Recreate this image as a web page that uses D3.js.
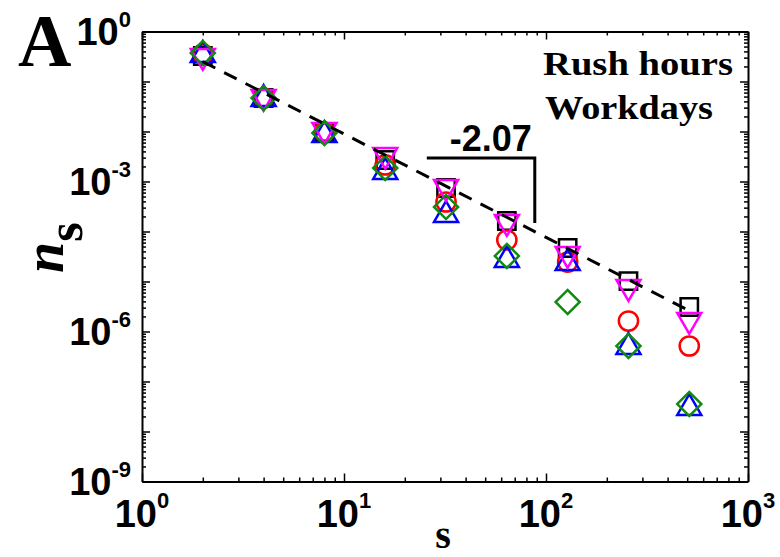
<!DOCTYPE html>
<html>
<head>
<meta charset="utf-8">
<script src="https://cdn.jsdelivr.net/npm/d3@7.9.0/dist/d3.min.js"></script>
<style>
  body { margin: 0; background: #fff; }
  svg { display: block; background: #fff; }
</style>
</head>
<body>
<svg id="chart" width="780" height="557"></svg>
<script>
// cluster sizes s and n_s for each curve
const sizes = [2, 4, 8, 16, 32, 64, 128, 256, 512];
const blackSquares = [3.24e-1, 4.68e-2, 9.77e-3, 2.69e-3, 7.41e-4, 1.62e-4, 4.68e-5, 1.02e-5, 3.09e-6];
const redCircles = [3.55e-1, 4.68e-2, 9.77e-3, 2.14e-3, 3.89e-4, 6.76e-5, 2.45e-5, 1.62e-6, 5.13e-7];
const blueTriangles = [3.39e-1, 4.47e-2, 8.51e-3, 1.55e-3, 2.14e-4, 2.69e-5, 2.34e-5, 4.90e-7, 2.95e-8];
const magentaTriangles = [3.24e-1, 4.90e-2, 1.07e-2, 3.39e-3, 7.76e-4, 1.55e-4, 3.55e-5, 7.76e-6, 1.70e-6];
const greenDiamonds = [3.72e-1, 4.68e-2, 9.33e-3, 1.86e-3, 3.09e-4, 3.24e-5, 3.89e-6, 5.13e-7, 3.55e-8];

// fitted power law (slope -2.07) and the slope bracket
const fitS = [2, 512];
const fitN = [0.25, 2.6e-6];
const slopeS = [25.7, 88, 88];
const slopeN = [2.95e-3, 2.95e-3, 1.48e-4];
const slopeLabel = '-2.07';

const xTickExps = [0, 1, 2, 3];
const yTickExps = [0, -3, -6, -9];
const noteLines = ['Rush hours', 'Workdays'];

const svg = d3.select('#chart');
const plotLeft = 142, plotRight = 748, plotTop = 31.5, plotBottom = 481.5;

const x = d3.scaleLog().domain([1, 1000]).range([plotLeft, plotRight]);
const y = d3.scaleLog().domain([1e-9, 1]).range([plotBottom, plotTop]);

// ticks: majors at decades, minors at 2..9
const xMajor = xTickExps.map(e => Math.pow(10, e));
const xMinor = x.ticks().filter(t => Math.abs(Math.log10(t) - Math.round(Math.log10(t))) > 1e-9);
const yMajor = d3.range(-9, 1).map(e => Math.pow(10, e));
const yMinor = [];
d3.range(-9, 0).forEach(e => {
  d3.range(2, 10).forEach(m => yMinor.push(m * Math.pow(10, e)));
});

function drawAxis(axisFn, scale, pos, transform) {
  const g = svg.append('g').attr('transform', transform);
  g.call(axisFn(scale).tickValues(pos.major).tickSizeInner(-8).tickSizeOuter(0).tickFormat(''));
  g.append('g').call(axisFn(scale).tickValues(pos.minor).tickSizeInner(-4).tickSizeOuter(0).tickFormat(''))
    .select('.domain').remove();
  g.selectAll('.domain').attr('stroke', '#000').attr('stroke-width', 2);
  g.selectAll('.tick line').attr('stroke', '#000').attr('stroke-width', 1.5);
}

drawAxis(d3.axisBottom, x, { major: xMajor, minor: xMinor }, `translate(0,${plotBottom})`);
drawAxis(d3.axisTop, x, { major: xMajor, minor: xMinor }, `translate(0,${plotTop})`);
drawAxis(d3.axisLeft, y, { major: yMajor, minor: yMinor }, `translate(${plotLeft},0)`);
drawAxis(d3.axisRight, y, { major: yMajor, minor: yMinor }, `translate(${plotRight},0)`);

// tick labels with superscript exponents
const tickFont = '"Liberation Sans", Arial, sans-serif';
xTickExps.forEach(e => {
  const t = svg.append('text')
    .attr('x', x(Math.pow(10, e)))
    .attr('y', 527)
    .attr('text-anchor', 'middle')
    .attr('font-family', tickFont)
    .attr('font-weight', 'bold')
    .attr('font-size', 38);
  t.append('tspan').text('10');
  t.append('tspan').attr('dy', -19).attr('font-size', 22).text(e);
});
yTickExps.forEach(e => {
  const t = svg.append('text')
    .attr('x', 131)
    .attr('y', y(Math.pow(10, e)) + 13.5)
    .attr('text-anchor', 'end')
    .attr('font-family', tickFont)
    .attr('font-weight', 'bold')
    .attr('font-size', 38);
  t.append('tspan').text('10');
  t.append('tspan').attr('dy', -18).attr('font-size', 22).text(e);
});

// axis titles
const serif = '"Liberation Serif", "Times New Roman", serif';
svg.append('text')
  .attr('x', (plotLeft + plotRight) / 2 - 2)
  .attr('y', 548)
  .attr('text-anchor', 'middle')
  .attr('font-family', serif)
  .attr('font-weight', 'bold')
  .attr('font-size', 40)
  .text('s');

const yTitle = svg.append('text')
  .attr('transform', 'translate(63,273) rotate(-90)')
  .attr('font-family', serif)
  .attr('font-weight', 'bold')
  .attr('font-size', 56);
yTitle.append('tspan').attr('font-style', 'italic').text('n');
yTitle.append('tspan').attr('dy', 19).attr('font-size', 50).text('s');

svg.append('text')
  .attr('x', 18)
  .attr('y', 66)
  .attr('font-family', serif)
  .attr('font-weight', 'bold')
  .attr('font-size', 74)
  .text('A');

// markers
const series = [
  { values: blackSquares, color: '#000000', type: d3.symbolSquare, size: 300, rotate: 0 },
  { values: redCircles, color: '#ff0000', type: d3.symbolCircle, size: 290, rotate: 0 },
  { values: blueTriangles, color: '#0000ff', type: d3.symbolTriangle, size: 250, rotate: 0 },
  { values: magentaTriangles, color: '#ff00ff', type: d3.symbolTriangle, size: 250, rotate: 180 },
  { values: greenDiamonds, color: '#118a11', type: d3.symbolSquare, size: 290, rotate: 45 }
];

series.forEach(sr => {
  const sym = d3.symbol().type(sr.type).size(sr.size);
  svg.append('g')
    .selectAll('path')
    .data(sizes.map((s, i) => ({ s: s, n: sr.values[i] })))
    .join('path')
    .attr('d', sym)
    .attr('transform', d => `translate(${x(d.s)},${y(d.n)}) rotate(${sr.rotate})`)
    .attr('fill', 'none')
    .attr('stroke', sr.color)
    .attr('stroke-width', 2.5);
});

// dashed fit line
const line = d3.line().x(d => x(d[0])).y(d => y(d[1]));
svg.append('path')
  .attr('d', line(fitS.map((s, i) => [s, fitN[i]])))
  .attr('fill', 'none')
  .attr('stroke', '#000')
  .attr('stroke-width', 3)
  .attr('stroke-dasharray', '14,10');

// slope bracket
svg.append('path')
  .attr('d', line(slopeS.map((s, i) => [s, slopeN[i]])))
  .attr('fill', 'none')
  .attr('stroke', '#000')
  .attr('stroke-width', 3);

svg.append('text')
  .attr('x', (x(slopeS[0]) + x(slopeS[1])) / 2 + 10)
  .attr('y', y(slopeN[0]) - 7)
  .attr('text-anchor', 'middle')
  .attr('font-family', tickFont)
  .attr('font-weight', 'bold')
  .attr('font-size', 36)
  .text(slopeLabel);

// note text
const noteWidths = [190, 168];
noteLines.forEach((txt, i) => {
  svg.append('text')
    .attr('x', i === 0 ? 543 : 545)
    .attr('y', 75 + i * 44)
    .attr('font-family', serif)
    .attr('font-weight', 'bold')
    .attr('font-size', 34)
    .attr('textLength', noteWidths[i])
    .attr('lengthAdjust', 'spacingAndGlyphs')
    .text(txt);
});
</script>
</body>
</html>
